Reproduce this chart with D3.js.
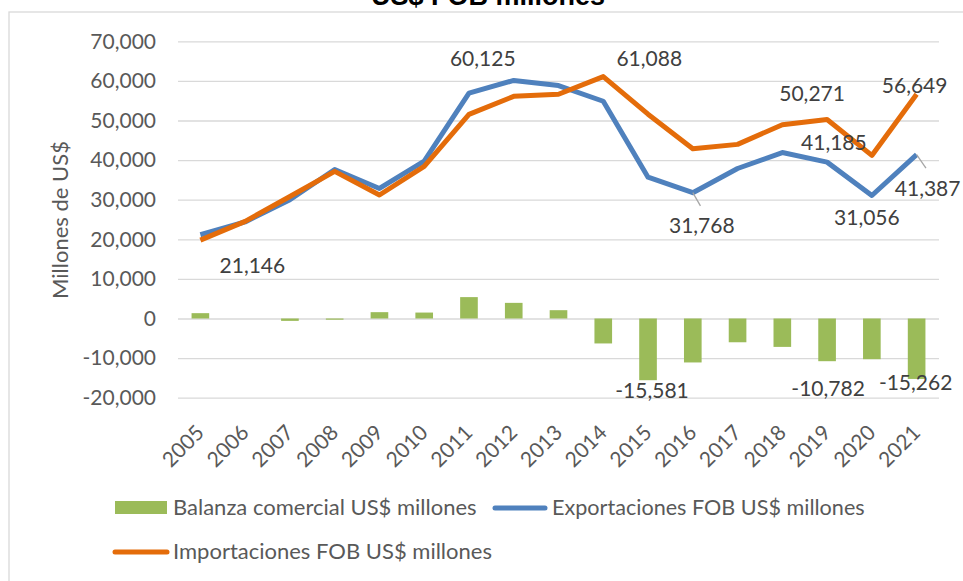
<!DOCTYPE html>
<html>
<head>
<meta charset="utf-8">
<script src="https://cdn.jsdelivr.net/npm/d3@7"></script>
<style>
  body { margin: 0; background: #fff; }
  text { font-family: Lato, "Open Sans", sans-serif; }
</style>
</head>
<body>
<div id="chart"></div>
<script>
    // data
    var years = ["2005", "2006", "2007", "2008", "2009", "2010", "2011", "2012", "2013",
      "2014", "2015", "2016", "2017", "2018", "2019", "2020", "2021"];
    var exportaciones = [21146, 24391, 29991, 37626, 32846, 39713, 56915, 60125, 58824,
      54857, 35691, 31768, 37881, 41905, 39489, 31056, 41387];
    var importaciones = [19799, 24534, 30816, 37155, 31188, 38404, 51556, 56102, 56620,
      61088, 51598, 42849, 43972, 48945, 50271, 41185, 56649];
    var balanza = [1347, 0, -600, -300, 1600, 1500, 5400, 3950, 2100,
      -6300, -15581, -11100, -6000, -7170, -10782, -10280, -15262];
    var yTicks = [-20000, -10000, 0, 10000, 20000, 30000, 40000, 50000, 60000, 70000];

    // which points get a value label, and where (offset from the point)
    var labels = [
      { series: "exp", i: 0, dx: 52, dy: 31 },
      { series: "exp", i: 7, dx: -31, dy: -22 },
      { series: "imp", i: 9, dx: 46, dy: -18 },
      { series: "exp", i: 11, dx: 9, dy: 33, leader: true },
      { series: "imp", i: 14, dx: -15, dy: -26 },
      { series: "imp", i: 15, dx: -38, dy: -13 },
      { series: "imp", i: 16, dx: -2, dy: -9 },
      { series: "exp", i: 15, dx: -5, dy: 22 },
      { series: "exp", i: 16, dx: 11, dy: 34, leader: true },
      { series: "bal", i: 10, dx: 4, dy: 10 },
      { series: "bal", i: 14, dx: 1, dy: 27 },
      { series: "bal", i: 16, dx: -1, dy: 4 }
    ];

    var svgWidth = 963;
    var svgHeight = 581;

    var plot = { left: 178, right: 939, top: 41.3, bottom: 397.7 };

    // excel style numbers: plain hyphen for negatives
    var fmt = function(v) { return d3.format(",")(v).replace("\u2212", "-"); };

    var svg = d3.select("#chart")
      .append("svg")
      .attr("width", svgWidth)
      .attr("height", svgHeight)
      .style("display", "block");

    svg.append("rect")
      .attr("width", svgWidth)
      .attr("height", svgHeight)
      .attr("fill", "#fff");

    // chart frame
    svg.append("rect")
      .attr("x", 9)
      .attr("y", 12)
      .attr("width", 1000)
      .attr("height", 700)
      .attr("fill", "none")
      .attr("stroke", "#d9d9d9")
      .attr("stroke-width", 1.3);

    // title (cut off at top, as in the source)
    svg.append("text")
      .attr("x", 488)
      .attr("y", 5)
      .attr("text-anchor", "middle")
      .style("font-family", "'Liberation Sans', Arial, sans-serif")
      .style("font-weight", "bold")
      .style("font-size", "27px")
      .attr("fill", "#000")
      .text("US$ FOB millones");

    // scales
    var xScale = d3.scaleBand()
      .domain(years)
      .range([plot.left, plot.right])
      .padding(0);

    var yScale = d3.scaleLinear()
      .domain([-20000, 70000])
      .range([plot.bottom, plot.top]);

    var cx = function(i) { return xScale(years[i]) + xScale.bandwidth() / 2; };

    // y axis with gridlines
    var yAxis = d3.axisLeft(yScale)
      .tickValues(yTicks)
      .tickSize(-(plot.right - plot.left))
      .tickPadding(22)
      .tickFormat(fmt);

    var yG = svg.append("g")
      .attr("transform", `translate(${plot.left}, 0)`)
      .call(yAxis);
    yG.select(".domain").remove();
    yG.selectAll(".tick line")
      .attr("stroke", "#d9d9d9")
      .attr("stroke-width", 1.3);
    yG.selectAll(".tick text")
      .attr("fill", "#595959")
      .style("font-size", "21px")
      .style("font-family", "Lato, sans-serif");

    // axis title
    svg.append("text")
      .attr("transform", "translate(60, 220) rotate(-90)")
      .attr("text-anchor", "middle")
      .attr("dy", "0.35em")
      .attr("fill", "#595959")
      .style("font-size", "22px")
      .text("Millones de US$");

    // x labels
    svg.append("g")
      .selectAll("text")
      .data(years)
      .enter()
      .append("text")
      .attr("transform", d => `translate(${xScale(d) + xScale.bandwidth() / 2 + 5}, 434) rotate(-45)`)
      .attr("text-anchor", "end")
      .attr("fill", "#595959")
      .style("font-size", "21px")
      .text(d => d);

    // bars
    var barW = xScale.bandwidth() * 0.394;
    svg.append("g")
      .selectAll("rect")
      .data(balanza)
      .enter()
      .append("rect")
      .attr("x", (d, i) => cx(i) - barW / 2)
      .attr("y", d => yScale(Math.max(0, d)))
      .attr("width", barW)
      .attr("height", d => Math.abs(yScale(d) - yScale(0)))
      .attr("fill", "#9bbb59");

    // lines
    var line = d3.line()
      .x((d, i) => cx(i))
      .y(d => yScale(d));

    svg.append("path")
      .datum(exportaciones)
      .attr("d", line)
      .attr("fill", "none")
      .attr("stroke", "#4f81bd")
      .attr("stroke-width", 5)
      .attr("stroke-linejoin", "round");

    svg.append("path")
      .datum(importaciones)
      .attr("d", line)
      .attr("fill", "none")
      .attr("stroke", "#e46c0a")
      .attr("stroke-width", 5)
      .attr("stroke-linejoin", "round");

    // data labels
    var seriesData = { exp: exportaciones, imp: importaciones, bal: balanza };
    labels.forEach(function(l) {
      var v = seriesData[l.series][l.i];
      var px = cx(l.i);
      var py = yScale(v);
      if (l.leader) {
        svg.append("line")
          .attr("x1", px)
          .attr("y1", py)
          .attr("x2", px + l.dx * 0.85)
          .attr("y2", py + l.dy * 0.4)
          .attr("stroke", "#a6a6a6")
          .attr("stroke-width", 1.3);
      }
      svg.append("text")
        .attr("x", px + l.dx)
        .attr("y", py + l.dy)
        .attr("dy", "0.35em")
        .attr("text-anchor", "middle")
        .attr("fill", "#404040")
        .style("font-size", "21px")
        .text(fmt(v));
    });

    // legend
    var legend = svg.append("g");
    legend.append("rect")
      .attr("x", 115)
      .attr("y", 501)
      .attr("width", 52)
      .attr("height", 13)
      .attr("fill", "#9bbb59");
    legend.append("text")
      .attr("x", 173)
      .attr("y", 507)
      .attr("dy", "0.35em")
      .attr("fill", "#595959")
      .style("font-size", "22px")
      .text("Balanza comercial US$ millones");

    legend.append("line")
      .attr("x1", 495).attr("x2", 545)
      .attr("y1", 508).attr("y2", 508)
      .attr("stroke", "#4f81bd")
      .attr("stroke-width", 5)
      .attr("stroke-linecap", "round");
    legend.append("text")
      .attr("x", 552)
      .attr("y", 507)
      .attr("dy", "0.35em")
      .attr("fill", "#595959")
      .style("font-size", "21.6px")
      .text("Exportaciones FOB US$ millones");

    legend.append("line")
      .attr("x1", 115).attr("x2", 167)
      .attr("y1", 552).attr("y2", 552)
      .attr("stroke", "#e46c0a")
      .attr("stroke-width", 5)
      .attr("stroke-linecap", "round");
    legend.append("text")
      .attr("x", 173)
      .attr("y", 551)
      .attr("dy", "0.35em")
      .attr("fill", "#595959")
      .style("font-size", "22px")
      .text("Importaciones FOB US$ millones");
</script>
</body>
</html>
